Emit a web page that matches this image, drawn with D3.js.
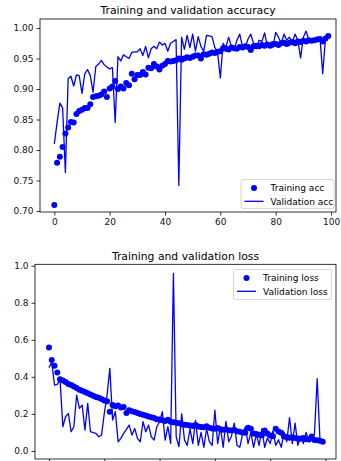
<!DOCTYPE html>
<html>
<head>
<meta charset="utf-8">
<script src="https://cdn.jsdelivr.net/npm/d3@7"></script>
<style>
  html, body { margin: 0; padding: 0; background: #fff; }
  svg { display: block; font-family: "DejaVu Sans", sans-serif; }
</style>
</head>
<body>
<svg id="chart" width="341" height="461"></svg>
<script>
// ---- Data ----
const trainAcc = [
  0.710, 0.779, 0.789, 0.805, 0.827, 0.837, 0.846, 0.845, 0.859, 0.864,
  0.866, 0.869, 0.869, 0.875, 0.887, 0.888, 0.889, 0.891, 0.896, 0.887,
  0.901, 0.904, 0.913, 0.900, 0.904, 0.901, 0.910, 0.906, 0.925, 0.916,
  0.923, 0.923, 0.928, 0.924, 0.935, 0.934, 0.941, 0.937, 0.932, 0.938,
  0.941, 0.946, 0.945, 0.946, 0.947, 0.950, 0.948, 0.950, 0.952, 0.951,
  0.953, 0.955, 0.955, 0.950, 0.957, 0.956, 0.958, 0.960, 0.959, 0.961,
  0.962, 0.967, 0.966, 0.965, 0.968, 0.967, 0.966, 0.969, 0.968, 0.970,
  0.969, 0.964, 0.970, 0.971, 0.970, 0.972, 0.971, 0.973, 0.971, 0.974,
  0.974, 0.972, 0.975, 0.976, 0.974, 0.976, 0.977, 0.975, 0.978, 0.977,
  0.979, 0.978, 0.980, 0.979, 0.980, 0.981, 0.982, 0.978, 0.983, 0.987
];
const valAcc = [
  0.810, 0.845, 0.877, 0.869, 0.763, 0.917, 0.921, 0.905, 0.923, 0.922,
  0.893, 0.925, 0.932, 0.922, 0.895, 0.937, 0.941, 0.947, 0.940, 0.936,
  0.933, 0.935, 0.845, 0.953, 0.946, 0.956, 0.953, 0.950, 0.960, 0.961,
  0.961, 0.966, 0.955, 0.970, 0.951, 0.966, 0.970, 0.966, 0.977, 0.972,
  0.975, 0.962, 0.975, 0.978, 0.981, 0.742, 0.985, 0.965, 0.988, 0.968,
  0.990, 0.962, 0.986, 0.970, 0.962, 0.988, 0.987, 0.986, 0.968, 0.960,
  0.918, 0.975, 0.968, 0.985, 0.970, 0.965, 0.980, 0.990, 0.970, 0.968,
  0.982, 0.990, 0.975, 0.966, 0.980, 0.978, 0.992, 0.970, 0.975, 0.968,
  0.993, 0.985, 0.975, 0.990, 0.980, 0.985, 0.976, 0.990, 0.980, 0.951,
  0.985, 0.995, 0.980, 0.978, 0.982, 0.985, 0.984, 0.925, 0.983, 0.988
];
const trainLoss = [
  0.558, 0.491, 0.460, 0.424, 0.387, 0.380, 0.372, 0.362, 0.356, 0.348,
  0.340, 0.331, 0.325, 0.318, 0.311, 0.305, 0.298, 0.292, 0.287, 0.280,
  0.272, 0.268, 0.212, 0.248, 0.242, 0.245, 0.235, 0.238, 0.205, 0.220,
  0.215, 0.210, 0.205, 0.200, 0.196, 0.192, 0.186, 0.182, 0.178, 0.172,
  0.170, 0.166, 0.162, 0.168, 0.158, 0.155, 0.152, 0.150, 0.145, 0.142,
  0.140, 0.138, 0.135, 0.140, 0.132, 0.130, 0.128, 0.133, 0.126, 0.122,
  0.120, 0.124, 0.118, 0.115, 0.117, 0.112, 0.110, 0.113, 0.106, 0.104,
  0.100, 0.098, 0.125, 0.120, 0.095, 0.092, 0.088, 0.085, 0.110, 0.095,
  0.083, 0.080, 0.120, 0.105, 0.098, 0.078, 0.075, 0.072, 0.074, 0.070,
  0.068, 0.066, 0.070, 0.064, 0.062, 0.078, 0.060, 0.058, 0.055, 0.050
];
const valLoss = [
  0.450, 0.480, 0.355, 0.360, 0.385, 0.131, 0.185, 0.203, 0.104, 0.131,
  0.302, 0.230, 0.248, 0.113, 0.257, 0.104, 0.099, 0.095, 0.077, 0.086,
  0.203, 0.300, 0.446, 0.167, 0.212, 0.050, 0.068, 0.095, 0.117, 0.140,
  0.086, 0.122, 0.068, 0.050, 0.158, 0.104, 0.140, 0.077, 0.059, 0.131,
  0.158, 0.212, 0.059, 0.131, 0.041, 0.959, 0.077, 0.023, 0.200, 0.060,
  0.030, 0.120, 0.040, 0.165, 0.030, 0.100, 0.020, 0.120, 0.050, 0.030,
  0.220, 0.040, 0.130, 0.020, 0.160, 0.050, 0.080, 0.150, 0.030, 0.020,
  0.090, 0.130, 0.040, 0.100, 0.020, 0.090, 0.030, 0.120, 0.020, 0.070,
  0.040, 0.110, 0.030, 0.060, 0.020, 0.100, 0.050, 0.180, 0.040, 0.150,
  0.030, 0.080, 0.040, 0.100, 0.050, 0.070, 0.090, 0.390, 0.060, 0.040
];
const epochs = d3.range(trainAcc.length);

const xTicks = [0, 20, 40, 60, 80, 100];
const accTicks = [0.70, 0.75, 0.80, 0.85, 0.90, 0.95, 1.00];
const lossTicks = [0.0, 0.2, 0.4, 0.6, 0.8, 1.0];

const titles = ["Training and validation accuracy", "Training and validation loss"];
const accLegend = ["Training acc", "Validation acc"];
const lossLegend = ["Training loss", "Validation loss"];

// ---- Drawing ----
const svg = d3.select("#chart");
const BLUE = "#0000ff";

function panel(cfg) {
  const g = svg.append("g");
  const x = d3.scaleLinear().domain(cfg.xDomain).range([cfg.left, cfg.right]);
  const y = d3.scaleLinear().domain(cfg.yDomain).range([cfg.bottom, cfg.top]);

  const clipId = "clip" + cfg.id;
  svg.append("clipPath").attr("id", clipId).append("rect")
    .attr("x", cfg.left).attr("y", cfg.top)
    .attr("width", cfg.right - cfg.left).attr("height", cfg.bottom - cfg.top);

  // axes (the loss panel's x labels fall below the picture's edge in the reference)
  const xAxis = g.append("g").attr("transform", `translate(0,${cfg.bottom})`)
    .call(d3.axisBottom(x).tickValues(xTicks).tickSize(3.5).tickPadding(3)
      .tickFormat(cfg.xLabels ? d3.format("d") : () => ""));
  const yAxis = g.append("g").attr("transform", `translate(${cfg.left},0)`)
    .call(d3.axisLeft(y).tickValues(cfg.yTicks).tickSize(3.5).tickPadding(3).tickFormat(d3.format(cfg.yFmt)));
  [xAxis, yAxis].forEach(a => {
    a.select(".domain").remove();
    a.selectAll(".tick line").attr("stroke", "#000").attr("stroke-width", 0.8);
    a.selectAll(".tick text").attr("fill", "#111").style("font-size", "9px")
      .style("font-family", "DejaVu Sans, sans-serif");
  });
  if (!cfg.xLabels) xAxis.selectAll(".tick text").remove();

  const plot = g.append("g").attr("clip-path", `url(#${clipId})`);
  // training: dots
  plot.selectAll("circle.train").data(epochs).join("circle")
    .attr("class", "train")
    .attr("cx", d => x(d)).attr("cy", d => y(cfg.train[d]))
    .attr("r", 3).attr("fill", BLUE);
  // validation: line
  plot.append("path").datum(epochs)
    .attr("fill", "none").attr("stroke", BLUE).attr("stroke-width", 1.3)
    .attr("stroke-linejoin", "round")
    .attr("d", d3.line().x(d => x(d)).y(d => y(cfg.val[d])));

  // frame
  g.append("rect")
    .attr("x", cfg.left).attr("y", cfg.top)
    .attr("width", cfg.right - cfg.left).attr("height", cfg.bottom - cfg.top)
    .attr("fill", "none").attr("stroke", "#000").attr("stroke-width", 0.8);

  // title
  g.append("text")
    .attr("x", (cfg.left + cfg.right) / 2).attr("y", cfg.titleY)
    .attr("text-anchor", "middle").attr("fill", "#000")
    .style("font-size", "10.8px").text(cfg.title);

  // legend
  const L = cfg.legend;
  const lg = g.append("g");
  lg.append("rect")
    .attr("x", L.x).attr("y", L.y).attr("width", L.w).attr("height", L.h)
    .attr("rx", 2).attr("fill", "#fff").attr("fill-opacity", 0.8)
    .attr("stroke", "#cccccc").attr("stroke-width", 0.8);
  const hx0 = L.x + L.hPad, hx1 = hx0 + 19;
  const row0 = L.y + 8.5, row1 = L.y + 21.8;
  lg.append("circle").attr("cx", (hx0 + hx1) / 2).attr("cy", row0).attr("r", 3).attr("fill", BLUE);
  lg.append("line").attr("x1", hx0).attr("x2", hx1).attr("y1", row1).attr("y2", row1)
    .attr("stroke", BLUE).attr("stroke-width", 1.3);
  lg.selectAll("text.lab").data(L.labels).join("text")
    .attr("class", "lab")
    .attr("x", hx1 + 7).attr("y", (d, i) => (i ? row1 : row0) + 3.3)
    .attr("fill", "#000").style("font-size", "9px").text(d => d);
}

panel({
  id: "acc",
  left: 40, right: 336, top: 19, bottom: 212,
  xDomain: [-5.17, 101.8], yDomain: [0.6984, 1.0148],
  yTicks: accTicks, yFmt: ".2f", xLabels: true,
  train: trainAcc, val: valAcc,
  title: titles[0], titleY: 14,
  legend: { x: 241, y: 179.5, w: 93, h: 29, hPad: 3.5, labels: accLegend }
});

panel({
  id: "loss",
  left: 35, right: 336, top: 264.3, bottom: 459,
  xDomain: [-5.06, 103.8], yDomain: [-0.0432, 1.0076],
  yTicks: lossTicks, yFmt: ".1f", xLabels: false,
  train: trainLoss, val: valLoss,
  title: titles[1], titleY: 260,
  legend: { x: 233.5, y: 269.5, w: 98, h: 30, hPad: 3.5, labels: lossLegend }
});
</script>
</body>
</html>
